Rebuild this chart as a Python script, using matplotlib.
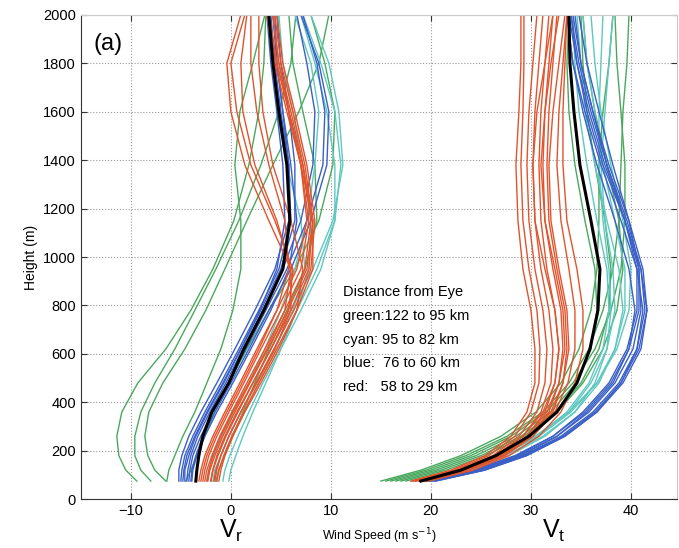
import numpy as np
import matplotlib
matplotlib.use('Agg')
import matplotlib.pyplot as plt

plt.rcParams['font.family'] = ['Liberation Sans', 'DejaVu Sans']

################ Data ################

heights = [75, 120, 180, 260, 360, 480, 620, 780, 950, 1150, 1380, 1600, 1800, 2000]

vr_green = [
    [-9.4, -10.5, -11.2, -11.4, -10.9, -9.3, -6.5, -4.0, -1.8, 0.3, 1.8, 2.8, 3.3, 3.5],
    [-8.0, -9.0, -9.6, -9.6, -9.0, -7.6, -5.6, -3.6, -1.5, 0.8, 3.0, 4.8, 6.0, 6.5],
    [-6.5, -7.6, -8.3, -8.6, -8.2, -6.8, -4.6, -2.5, -0.6, 1.6, 4.2, 6.8, 8.8, 9.8],
    [-6.4, -6.2, -5.6, -4.8, -3.6, -2.4, -1.0, 0.2, 1.0, 1.0, 0.4, 0.9, 2.2, 3.4],
    [-4.5, -4.0, -3.4, -2.6, -1.6, -0.2, 1.6, 3.8, 6.4, 8.8, 10.2, 10.4, 9.4, 8.0],
    [-1.5, -1.2, -0.6, 0.2, 1.2, 2.4, 3.8, 5.6, 7.4, 8.6, 8.4, 7.2, 6.2, 5.8],
]
vt_green = [
    [15.0, 19.0, 23.0, 27.0, 30.5, 33.0, 34.8, 36.0, 36.6, 36.8, 36.8, 37.2, 37.8, 38.2],
    [15.5, 19.5, 23.5, 27.6, 31.2, 33.8, 35.8, 37.2, 38.2, 38.8, 39.0, 39.2, 39.6, 39.8],
    [16.0, 20.0, 24.0, 28.0, 31.5, 34.2, 36.4, 38.0, 39.0, 39.4, 39.4, 39.0, 38.6, 38.4],
    [16.5, 20.5, 24.5, 28.5, 32.0, 34.5, 36.0, 36.6, 36.4, 35.4, 34.4, 33.8, 33.6, 33.8],
    [17.0, 21.0, 25.0, 29.0, 32.4, 35.0, 36.8, 37.8, 38.0, 37.4, 36.4, 35.6, 35.2, 35.0],
    [17.5, 21.5, 25.5, 29.3, 32.6, 35.2, 37.2, 38.6, 39.2, 38.8, 37.6, 36.4, 35.6, 35.2],
]

vr_cyan = [
    [-2.0, -1.8, -1.3, -0.5, 0.7, 2.2, 4.0, 6.0, 8.2, 10.2, 11.2, 10.8, 9.8, 8.0],
    [-1.4, -1.2, -0.7, 0.1, 1.3, 2.8, 4.6, 6.6, 8.6, 10.4, 11.0, 10.4, 9.0, 7.2],
    [-0.8, -0.6, -0.1, 0.7, 1.8, 3.2, 5.0, 7.0, 9.0, 10.4, 10.4, 9.6, 8.4, 7.0],
    [-0.2, 0.0, 0.5, 1.2, 2.2, 3.5, 5.0, 6.6, 7.8, 8.0, 7.2, 6.2, 5.2, 4.8],
    [-2.4, -2.2, -1.7, -0.9, 0.3, 1.8, 3.4, 5.0, 6.4, 7.6, 8.4, 8.8, 8.0, 6.4],
    [-1.8, -1.6, -1.0, -0.2, 1.0, 2.6, 4.4, 6.2, 7.4, 7.0, 5.6, 4.6, 4.4, 4.8],
]
vt_cyan = [
    [18.0, 22.5, 26.5, 30.4, 33.8, 36.6, 38.6, 39.8, 40.0, 39.2, 38.0, 37.0, 36.4, 36.0],
    [18.5, 23.0, 27.0, 30.8, 34.0, 36.6, 38.4, 39.4, 39.4, 38.4, 37.2, 36.4, 35.6, 35.2],
    [19.0, 23.4, 27.4, 31.2, 34.4, 36.8, 38.4, 39.2, 38.8, 37.6, 36.4, 35.4, 35.0, 34.6],
    [19.5, 23.8, 27.8, 31.4, 34.4, 36.4, 37.6, 38.0, 37.8, 37.2, 36.8, 36.8, 37.0, 37.2],
    [18.2, 22.6, 26.8, 30.6, 33.8, 36.0, 37.6, 38.4, 38.2, 37.4, 37.0, 37.4, 37.8, 38.2],
    [19.2, 23.2, 27.0, 30.6, 33.6, 35.8, 37.2, 37.8, 37.6, 36.6, 35.6, 34.8, 34.4, 34.2],
]

vr_blue = [
    [-5.2, -5.2, -4.9, -4.2, -3.0, -1.4, 0.4, 2.4, 4.4, 5.8, 5.8, 5.2, 4.6, 4.2],
    [-5.0, -4.9, -4.6, -3.8, -2.6, -1.0, 0.8, 2.8, 4.8, 6.0, 5.8, 5.0, 4.4, 4.0],
    [-4.6, -4.6, -4.2, -3.5, -2.3, -0.7, 1.0, 3.0, 5.0, 6.4, 6.4, 5.8, 5.0, 4.6],
    [-4.4, -4.3, -4.0, -3.3, -2.1, -0.5, 1.2, 3.2, 5.2, 7.0, 8.2, 8.4, 7.6, 6.6],
    [-4.2, -4.1, -3.8, -3.0, -1.8, -0.3, 1.5, 3.5, 5.6, 7.6, 9.2, 9.4, 8.6, 7.2],
    [-4.0, -3.9, -3.5, -2.8, -1.6, 0.0, 1.8, 3.8, 6.0, 8.0, 9.6, 9.8, 8.8, 7.0],
    [-4.8, -4.7, -4.4, -3.6, -2.4, -0.8, 1.0, 2.9, 4.6, 5.4, 5.2, 4.6, 4.0, 3.6],
    [-3.9, -3.8, -3.4, -2.6, -1.4, 0.2, 2.0, 4.0, 5.8, 6.6, 6.0, 5.2, 4.6, 4.4],
]
vt_blue = [
    [19.5, 24.5, 28.6, 32.2, 35.2, 37.8, 39.6, 40.6, 40.6, 39.4, 37.6, 36.2, 35.0, 34.2],
    [19.8, 24.8, 29.0, 32.6, 35.8, 38.4, 40.2, 41.0, 40.8, 39.4, 37.4, 35.8, 34.6, 33.8],
    [20.0, 25.0, 29.2, 33.0, 36.2, 38.8, 40.6, 41.4, 41.0, 39.6, 37.6, 36.0, 34.8, 34.0],
    [20.2, 25.2, 29.4, 33.2, 36.4, 39.0, 40.8, 41.6, 41.2, 39.8, 37.8, 36.2, 35.0, 34.4],
    [20.4, 25.3, 29.5, 33.4, 36.6, 39.2, 41.0, 41.6, 41.0, 39.4, 37.2, 35.6, 34.6, 34.0],
    [20.0, 24.6, 28.8, 32.6, 35.6, 38.2, 39.8, 40.4, 39.8, 38.4, 36.6, 35.2, 34.2, 33.6],
    [19.6, 24.2, 28.4, 32.2, 35.4, 38.0, 39.8, 40.8, 40.8, 39.8, 38.2, 36.8, 35.6, 34.8],
    [20.5, 25.4, 29.6, 33.4, 36.6, 39.0, 40.6, 41.2, 40.6, 39.0, 37.0, 35.4, 34.2, 33.6],
]

vr_red = [
    [-3.2, -3.0, -2.6, -1.8, -0.6, 0.9, 2.6, 4.6, 6.6, 7.6, 7.0, 5.8, 4.8, 4.2],
    [-2.8, -2.6, -2.2, -1.4, -0.2, 1.3, 3.0, 5.0, 7.0, 7.8, 7.0, 5.8, 4.6, 3.8],
    [-2.6, -2.4, -1.9, -1.1, 0.1, 1.6, 3.4, 5.4, 7.4, 8.0, 7.2, 6.0, 4.8, 4.2],
    [-2.3, -2.1, -1.6, -0.8, 0.4, 1.9, 3.7, 5.7, 7.6, 8.2, 7.4, 6.2, 5.0, 4.4],
    [-2.0, -1.8, -1.3, -0.5, 0.7, 2.2, 4.0, 6.0, 7.8, 8.2, 7.2, 5.8, 4.6, 3.8],
    [-1.7, -1.5, -1.0, -0.2, 1.0, 2.5, 4.3, 6.3, 8.0, 8.4, 7.6, 6.4, 5.2, 4.6],
    [-1.4, -1.2, -0.7, 0.1, 1.3, 2.8, 4.6, 6.6, 8.2, 8.2, 7.0, 5.6, 4.4, 3.6],
    [-3.0, -2.8, -2.4, -1.6, -0.4, 1.1, 2.8, 4.6, 5.8, 5.4, 3.8, 2.6, 2.0, 2.0],
    [-2.4, -2.2, -1.8, -1.0, 0.2, 1.8, 3.6, 5.4, 6.0, 4.6, 2.4, 1.2, 1.0, 1.6],
    [-2.0, -1.8, -1.4, -0.6, 0.6, 2.2, 4.0, 5.8, 6.2, 4.4, 2.0, 0.6, 0.0, 1.4],
    [-1.6, -1.4, -1.0, -0.2, 1.0, 2.6, 4.4, 6.0, 6.0, 3.8, 1.4, 0.0, -0.4, 1.0],
    [-1.2, -1.0, -0.6, 0.2, 1.4, 3.0, 4.8, 6.6, 7.2, 6.0, 4.2, 3.2, 2.8, 2.8],
]
vt_red = [
    [18.0, 22.0, 25.4, 28.0, 29.6, 30.4, 30.4, 30.0, 29.2, 28.7, 28.5, 28.8, 29.0, 29.0],
    [18.2, 22.3, 25.8, 28.4, 30.0, 30.8, 30.9, 30.6, 29.8, 29.2, 29.0, 29.2, 29.3, 29.3],
    [18.5, 22.6, 26.2, 28.8, 30.6, 31.4, 31.6, 31.2, 30.4, 29.8, 29.6, 29.8, 30.2, 30.6],
    [18.8, 23.0, 26.6, 29.2, 31.0, 32.0, 32.2, 31.8, 31.0, 30.4, 30.2, 30.4, 30.8, 31.2],
    [19.0, 23.2, 26.8, 29.6, 31.4, 32.4, 32.8, 32.4, 31.6, 31.0, 30.8, 31.0, 31.4, 31.8],
    [19.2, 23.5, 27.1, 29.9, 31.8, 32.8, 33.2, 33.0, 32.2, 31.4, 31.2, 31.4, 31.8, 32.2],
    [19.5, 23.8, 27.4, 30.2, 32.2, 33.2, 33.6, 33.4, 32.6, 31.8, 31.6, 31.8, 32.2, 32.6],
    [18.4, 22.7, 26.4, 29.2, 31.2, 32.4, 32.8, 32.4, 31.4, 30.4, 30.2, 30.6, 31.4, 32.2],
    [18.8, 23.1, 26.8, 29.6, 31.6, 32.8, 33.4, 33.2, 32.4, 31.4, 31.0, 31.4, 32.0, 32.8],
    [19.0, 23.3, 27.0, 29.9, 32.0, 33.2, 33.8, 33.6, 32.8, 32.0, 31.8, 32.2, 32.8, 33.4],
    [19.3, 23.6, 27.3, 30.2, 32.4, 33.7, 34.4, 34.4, 33.8, 33.0, 32.6, 32.8, 33.2, 33.6],
    [19.8, 24.2, 27.8, 30.8, 33.0, 34.4, 35.2, 35.2, 34.6, 33.6, 33.2, 33.2, 33.4, 33.6],
]

vr_mean = [-3.5, -3.4, -3.2, -2.8, -1.9, -0.2, 1.3, 3.3, 5.2, 5.9, 5.6, 4.8, 4.2, 3.8]
vt_mean = [19.0, 23.0, 26.5, 29.8, 32.6, 34.6, 35.9, 36.7, 36.9, 36.0, 34.9, 34.3, 33.9, 33.8]

legend_lines = ['Distance from Eye',
                'green:122 to 95 km',
                'cyan: 95 to 82 km',
                'blue:  76 to 60 km',
                'red:   58 to 29 km']

################ Plot ################

fig = plt.figure(figsize=(6.79, 5.48), dpi=100)
ax = fig.add_axes([0.119, 0.089, 0.878, 0.884])

groups = [(vr_green, vt_green, '#4aa85e'),
          (vr_cyan, vt_cyan, '#5ec8c0'),
          (vr_blue, vt_blue, '#3a5fc6'),
          (vr_red, vt_red, '#e2532c')]

for vr_set, vt_set, col in groups:
    for vr in vr_set:
        ax.plot(vr, heights, color=col, lw=1.0)
    for vt in vt_set:
        ax.plot(vt, heights, color=col, lw=1.0)

ax.plot(vr_mean, heights, color='black', lw=2.2)
ax.plot(vt_mean, heights, color='black', lw=2.2)

ax.set_xlim(-15, 44.6)
ax.set_ylim(0, 2000)
ax.set_xticks([-10, 0, 10, 20, 30, 40])
ax.set_yticks(np.arange(0, 2001, 200))
ax.tick_params(direction='in', top=True, right=True, labelsize=10.5, length=4, color='#333333')
ax.grid(True, linestyle=':', color='#999999', linewidth=0.8)
for s in ['left', 'bottom']:
    ax.spines[s].set_color('#333333')
for s in ['top', 'right']:
    ax.spines[s].set_color('#cccccc')

ax.set_ylabel('Height (m)', fontsize=10, labelpad=4)
ax.set_xlabel(r'Wind Speed (m s$^{-1}$)', fontsize=9, labelpad=6)

ax.text(-13.7, 1880, '(a)', fontsize=17, va='center', ha='left')
ax.text(0, -130, r'$\mathregular{V_r}$', fontsize=18, ha='center', va='center')
ax.text(32.3, -130, r'$\mathregular{V_t}$', fontsize=18, ha='center', va='center')

for i, line in enumerate(legend_lines):
    ax.text(11.2, 855 - i * 98, line, fontsize=10.5, va='center', ha='left')

fig.savefig('out.png', dpi=100)
